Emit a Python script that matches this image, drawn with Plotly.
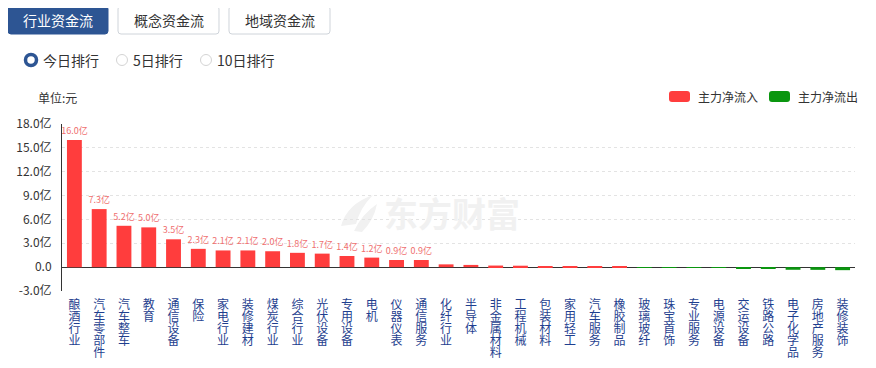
import plotly.graph_objects as go

categories = ["酿酒行业", "汽车零部件", "汽车整车", "教育", "通信设备", "保险", "家电行业", "装修建材",
              "煤炭行业", "综合行业", "光伏设备", "专用设备", "电机", "仪器仪表", "通信服务", "化纤行业",
              "半导体", "非金属材料", "工程机械", "包装材料", "家用轻工", "汽车服务", "橡胶制品", "玻璃玻纤",
              "珠宝首饰", "专业服务", "电源设备", "交运设备", "铁路公路", "电子化学品", "房地产服务", "装修装饰"]
values = [16.0, 7.3, 5.2, 5.0, 3.5, 2.3, 2.1, 2.1, 2.0, 1.8, 1.7, 1.4, 1.2, 0.9, 0.9, 0.35,
          0.28, 0.2, 0.18, 0.1, 0.1, 0.07, 0.02, -0.02, -0.05, -0.07, -0.09, -0.12, -0.22, -0.33, -0.34, -0.38]
label_min = 0.9
ytick_vals = [-3, 0, 3, 6, 9, 12, 15, 18]
ytick_text = ["-3.0亿", "0.0", "3.0亿", "6.0亿", "9.0亿", "12.0亿", "15.0亿", "18.0亿"]

OFF = 8  # page body margin
W, H = 876 - OFF, 368 - OFF
ML, MT = 62 - OFF, 124 - OFF
PW, PH = 793, 167
MR = W - ML - PW
MB = H - MT - PH
FONT = "Noto Sans CJK SC"
RED = "#ff3d3d"
GREEN = "#0a960f"
LINE_PITCH = 12


def px(x):
    return (x - OFF - ML) / PW


def py(y):
    return (H + OFF - MB - y) / PH


def path_from(cmds):
    s = []
    for p in cmds:
        cmd = p[0]
        coords = p[1:]
        c = []
        for i in range(0, len(coords), 2):
            c.append(f"{px(coords[i]):.5f},{py(coords[i+1]):.5f}")
        s.append(cmd + " " + " ".join(c))
    return " ".join(s) + " Z"


def rrect(x0, y0, x1, y1, r):
    return path_from([("M", x0 + r, y0), ("L", x1 - r, y0), ("Q", x1, y0, x1, y0 + r), ("L", x1, y1 - r),
                      ("Q", x1, y1, x1 - r, y1), ("L", x0 + r, y1), ("Q", x0, y1, x0, y1 - r),
                      ("L", x0, y0 + r), ("Q", x0, y0, x0 + r, y0)])


def note(x, y, text, size, color, anchor="left", bold=False):
    return dict(x=px(x), y=py(y), xref="paper", yref="paper", text=f"<b>{text}</b>" if bold else text,
                xanchor=anchor, yanchor="middle", showarrow=False,
                font=dict(size=size, color=color, family=FONT))


colors = [RED if v >= 0 else GREEN for v in values]
texts = [f"{v:.1f}亿" if v >= label_min else "" for v in values]
max_chars = max(len(c) for c in categories)
xrange = [-0.5, len(categories) - 0.5]

fig = go.Figure()
fig.add_trace(go.Bar(x=categories, y=values, marker=dict(color=colors, line=dict(width=0)), width=0.6,
                     text=texts, textposition="outside", cliponaxis=False, constraintext="none",
                     textfont=dict(size=9, color="#ef6f6f", family=FONT), showlegend=False,
                     hoverinfo="x+y"))

layout_axes = {}
for k in range(max_chars):
    name = "x" if k == 0 else f"x{k + 1}"
    key = "xaxis" if k == 0 else f"xaxis{k + 1}"
    chars = [c[k] if k < len(c) else "" for c in categories]
    ax = dict(tickmode="array", tickvals=categories, ticktext=chars, tickangle=0,
              tickfont=dict(size=12, color="#1f3f8f", family=FONT), showgrid=False, showline=False,
              zeroline=False, ticks="", fixedrange=True, automargin=False,
              ticklabelstandoff=5 + LINE_PITCH * k)
    if k == 0:
        ax.update(range=xrange, categoryorder="array", categoryarray=categories)
    else:
        ax.update(overlaying="x", matches="x", anchor="y", side="bottom")
        fig.add_trace(go.Scatter(x=categories, y=[None] * len(categories), xaxis=name, yaxis="y",
                                 showlegend=False, hoverinfo="skip", mode="lines"))
    layout_axes[key] = ax

shapes = []
annotations = []

# watermark (logo strokes + text)
WM = "#f1f1f1"
shapes.append(dict(type="path", xref="paper", yref="paper", layer="below", fillcolor=WM, line=dict(width=0),
                   path=path_from([("M", 341, 226), ("Q", 347, 204, 373, 195), ("Q", 360, 208, 356, 224)])))
shapes.append(dict(type="path", xref="paper", yref="paper", layer="below", fillcolor=WM, line=dict(width=0),
                   path=path_from([("M", 354, 231), ("Q", 362, 214, 377, 204), ("Q", 374, 220, 362, 232)])))
annotations.append(note(452, 212, "东方财富", 34, WM, anchor="center", bold=True))

# buttons
buttons = [(8, 108, "行业资金流", True), (118, 219, "概念资金流", False), (229, 330, "地域资金流", False)]
for x0, x1, label, active in buttons:
    shapes.append(dict(type="path", path=rrect(x0, 6, x1, 34, 3), xref="paper", yref="paper",
                       fillcolor="#2d5593" if active else "#ffffff",
                       line=dict(color="#2d5593" if active else "#cfd4da", width=1)))
    annotations.append(note((x0 + x1) / 2, 20, label, 14, "#ffffff" if active else "#333333",
                            anchor="center"))

# radios
radios = [(31, 41, "今日排行", True), (122, 131, "5日排行", False), (206, 215, "10日排行", False)]
for cx, tx, label, active in radios:
    shapes.append(dict(type="circle", xref="paper", yref="paper", x0=px(cx - 5.5), x1=px(cx + 5.5),
                       y0=py(60 + 5.5), y1=py(60 - 5.5), fillcolor="#ffffff",
                       line=dict(color="#2d5593" if active else "#d4d4d4", width=3.5 if active else 1)))
    annotations.append(note(tx, 60, label, 14, "#333333"))

# unit
annotations.append(note(36, 97, "单位:元", 12, "#333333"))

# legend
for sx, label, col in [(669, "主力净流入", RED), (769, "主力净流出", GREEN)]:
    shapes.append(dict(type="path", path=rrect(sx, 91, sx + 21, 102, 3), xref="paper", yref="paper",
                       fillcolor=col, line=dict(width=0)))
    annotations.append(note(sx + 27, 96.5, label, 12, "#333333"))

fig.update_layout(
    width=W, height=H, margin=dict(l=ML, r=MR, t=MT, b=MB, autoexpand=False),
    paper_bgcolor="#ffffff", plot_bgcolor="#ffffff",
    font=dict(family=FONT, color="#333333"),
    shapes=shapes, annotations=annotations, bargap=0.4,
    yaxis=dict(range=[-3, 18], tickvals=ytick_vals, ticktext=ytick_text,
               tickfont=dict(size=12, color="#333333", family=FONT),
               showgrid=True, gridcolor="#e3e3e3", griddash="dot", gridwidth=1,
               zeroline=True, zerolinecolor="#333333", zerolinewidth=1,
               showline=True, linecolor="#333333", linewidth=1, ticks="", ticklabelstandoff=7,
               fixedrange=True, automargin=False),
    **layout_axes,
)

fig.write_html("out.html")
